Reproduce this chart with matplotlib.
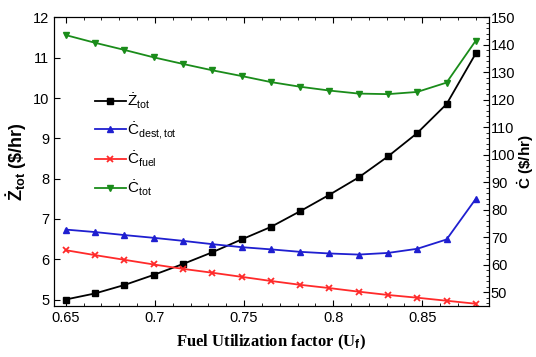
import matplotlib
matplotlib.use("Agg")
import matplotlib.pyplot as plt
from matplotlib.ticker import MultipleLocator
import numpy as np

uf = [0.6500, 0.6664, 0.6829, 0.6993, 0.7157, 0.7321, 0.7486, 0.7650,
      0.7814, 0.7979, 0.8143, 0.8307, 0.8471, 0.8636, 0.8800]
z_tot = [5.00, 5.15, 5.36, 5.61, 5.88, 6.17, 6.49, 6.80, 7.19, 7.60, 8.03, 8.55, 9.13, 9.85, 11.11]
c_dest = [72.8, 71.9, 70.8, 69.8, 68.7, 67.5, 66.4, 65.6, 64.7, 64.1, 63.7, 64.3, 65.8, 69.2, 84.0]
c_fuel = [65.3, 63.5, 61.8, 60.1, 58.5, 57.1, 55.6, 54.1, 52.7, 51.5, 50.2, 49.0, 48.0, 46.9, 45.8]
c_tot = [143.6, 140.8, 138.2, 135.5, 133.1, 130.8, 128.7, 126.5, 124.8, 123.4, 122.3, 122.1, 122.9, 126.3, 141.6]

plt.rcParams['font.family'] = ['Liberation Sans', 'DejaVu Sans']
plt.rcParams['mathtext.fontset'] = 'custom'
plt.rcParams['mathtext.rm'] = 'Liberation Sans'
plt.rcParams['mathtext.it'] = 'Liberation Sans'
plt.rcParams['mathtext.bf'] = 'Liberation Sans:bold'

fig = plt.figure(figsize=(5.36, 3.57), dpi=100)
ax = fig.add_axes([0.101, 0.143, 0.811, 0.808])
ax2 = ax.twinx()

lw = 1.3
ms = 4.5
h1, = ax.plot(uf, z_tot, color='black', marker='s', ms=ms, lw=lw, label=r'$\dot{\mathrm{Z}}_{\mathrm{tot}}$')
h2, = ax2.plot(uf, c_dest, color='#1f1fd0', marker='^', ms=ms, lw=lw, label=r'$\dot{\mathrm{C}}_{\mathrm{dest,tot}}$')
h3, = ax2.plot(uf, c_fuel, color='#ff2a2a', marker='x', ms=ms, mew=1.3, lw=lw, label=r'$\dot{\mathrm{C}}_{\mathrm{fuel}}$')
h4, = ax2.plot(uf, c_tot, color='#1a8c1a', marker='v', ms=ms, lw=lw, label=r'$\dot{\mathrm{C}}_{\mathrm{tot}}$')

ax.set_xlim(0.6435, 0.8873)
ax.set_ylim(4.84, 12)
ax2.set_ylim(45, 150)

ax.xaxis.set_major_locator(MultipleLocator(0.05))
ax.xaxis.set_minor_locator(MultipleLocator(0.01))
ax.yaxis.set_major_locator(MultipleLocator(1))
ax2.yaxis.set_major_locator(MultipleLocator(10))
ax2.yaxis.set_minor_locator(MultipleLocator(2))
ax.set_xticks([0.65, 0.7, 0.75, 0.8, 0.85])
ax.set_xticklabels(['0.65', '0.7', '0.75', '0.8', '0.85'])

ax.tick_params(axis='x', which='both', direction='in', top=True, labelsize=10.5)
ax.tick_params(axis='x', which='major', length=4)
ax.tick_params(axis='x', which='minor', length=2)
ax.tick_params(axis='y', which='both', direction='in', labelsize=10.5, length=4)
ax2.tick_params(axis='y', which='major', direction='in', labelsize=10.5, length=4, pad=1.5)
ax2.tick_params(axis='y', which='minor', direction='in', length=2)

ax.set_xlabel(r'Fuel Utilization factor (U$_\mathbf{f}$)', fontsize=12, fontweight='bold',
              family='Liberation Serif', labelpad=6)
ax.set_ylabel(r'$\mathbf{\dot{Z}_{tot}}$ (\$/hr)', fontsize=13, fontweight='bold', labelpad=3)
ax2.set_ylabel(r'$\mathbf{\dot{C}}$ (\$/hr)', fontsize=11, fontweight='bold', labelpad=0)

leg = ax.legend(handles=[h1, h2, h3, h4], loc='upper left', bbox_to_anchor=(0.08, 0.765),
                frameon=False, fontsize=11, handlelength=2.0, handletextpad=0.1,
                labelspacing=0.6, borderaxespad=0)

fig.savefig('out.png', dpi=100)
